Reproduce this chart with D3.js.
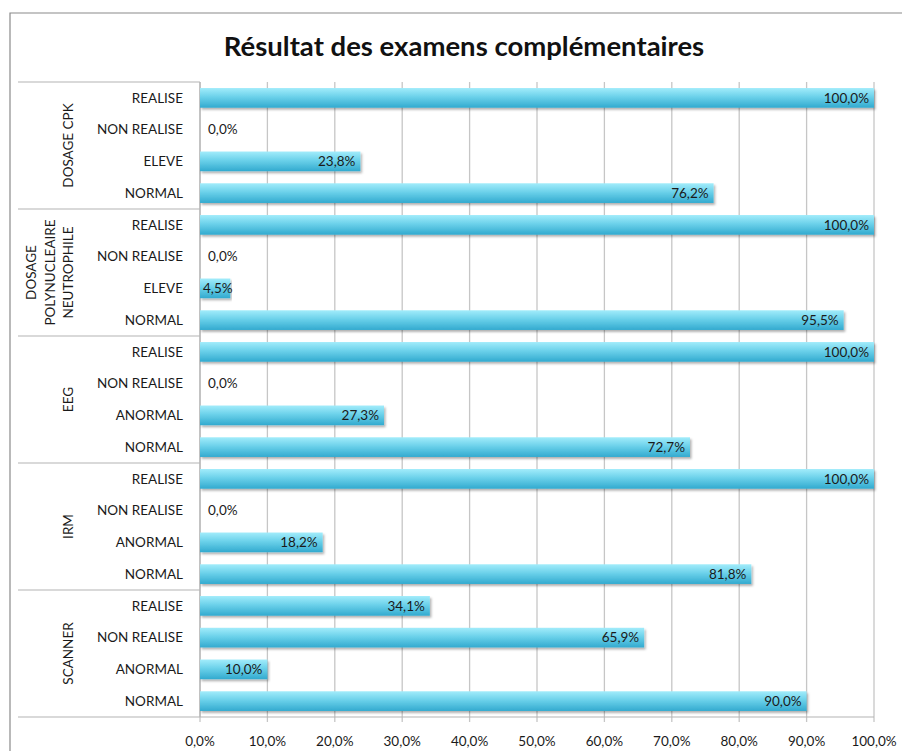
<!DOCTYPE html>
<html>
<head>
<meta charset="utf-8">
<script src="https://cdn.jsdelivr.net/npm/d3@7"></script>
<style>
  body { margin: 0; background: #fff; }
  text { font-family: Lato, "Open Sans", sans-serif; }
</style>
</head>
<body>
<div id="chart"></div>
<script>
// groupes (du haut vers le bas)
const groups = ['DOSAGE CPK', 'DOSAGE POLYNUCLEAIRE NEUTROPHILE', 'EEG', 'IRM', 'SCANNER'];
const groupLines = [['DOSAGE CPK'], ['DOSAGE', 'POLYNUCLEAIRE', 'NEUTROPHILE'], ['EEG'], ['IRM'], ['SCANNER']];
const categories = [
    ['REALISE', 'NON REALISE', 'ELEVE', 'NORMAL'],
    ['REALISE', 'NON REALISE', 'ELEVE', 'NORMAL'],
    ['REALISE', 'NON REALISE', 'ANORMAL', 'NORMAL'],
    ['REALISE', 'NON REALISE', 'ANORMAL', 'NORMAL'],
    ['REALISE', 'NON REALISE', 'ANORMAL', 'NORMAL']
];
const values = [
    [100.0, 0.0, 23.8, 76.2],
    [100.0, 0.0, 4.5, 95.5],
    [100.0, 0.0, 27.3, 72.7],
    [100.0, 0.0, 18.2, 81.8],
    [34.1, 65.9, 10.0, 90.0]
];
const xTicks = [0, 10, 20, 30, 40, 50, 60, 70, 80, 90, 100];

const W = 902, H = 751;
const M = { left: 200, right: 874, top: 82, bottom: 717 };
const FS = 13.5;  // taille des libellés

// lignes à plat
let rows = [];
groups.forEach((g, gi) => {
    categories[gi].forEach((c, ci) => {
        rows.push({ key: gi + '-' + ci, group: gi, cat: c, value: values[gi][ci] });
    });
});

const fmt = v => v.toFixed(1).replace('.', ',') + '%';

const svg = d3.select('#chart').append('svg')
    .attr('width', W)
    .attr('height', H);

const defs = svg.append('defs');
const grad = defs.append('linearGradient')
    .attr('id', 'barGrad')
    .attr('x1', 0).attr('y1', 0).attr('x2', 0).attr('y2', 1);
grad.append('stop').attr('offset', '0%').attr('stop-color', '#a2ecfb');
grad.append('stop').attr('offset', '45%').attr('stop-color', '#6bd1ea');
grad.append('stop').attr('offset', '100%').attr('stop-color', '#32aacf');

const shadow = defs.append('filter').attr('id', 'shadow')
    .attr('x', '-5%').attr('y', '-30%').attr('width', '110%').attr('height', '180%');
shadow.append('feDropShadow')
    .attr('dx', 1.5).attr('dy', 2).attr('stdDeviation', 1.2)
    .attr('flood-color', '#000').attr('flood-opacity', 0.3);

// cadre extérieur
svg.append('path')
    .attr('d', `M10,${H} L10,13 L${W},13`)
    .attr('fill', 'none')
    .attr('stroke', '#8a8a8a')
    .attr('stroke-width', 1.2);

// titre
svg.append('text')
    .attr('x', 464)
    .attr('y', 56)
    .attr('text-anchor', 'middle')
    .attr('font-size', 27.5)
    .attr('font-weight', 'bold')
    .attr('fill', '#111')
    .text('Résultat des examens complémentaires');

const x = d3.scaleLinear().domain([0, 100]).range([M.left, M.right]);
const y = d3.scaleBand().domain(rows.map(d => d.key)).range([M.top, M.bottom]).paddingInner(0.38).paddingOuter(0.19);
const band = (M.bottom - M.top) / rows.length;

// grille verticale
svg.append('g')
    .selectAll('line')
    .data(xTicks)
    .join('line')
    .attr('x1', d => x(d)).attr('x2', d => x(d))
    .attr('y1', M.top).attr('y2', M.bottom + 5)
    .attr('stroke', '#c6c6c6')
    .attr('stroke-width', 1.3);

// séparateurs de groupes dans la zone des libellés
const sepY = d3.range(groups.length + 1).map(i => M.top + i * 4 * band);
svg.append('g')
    .selectAll('line')
    .data(sepY)
    .join('line')
    .attr('x1', 18).attr('x2', (d, i) => i === groups.length ? M.right : M.left)
    .attr('y1', d => d).attr('y2', d => d)
    .attr('stroke', '#b4b4b4')
    .attr('stroke-width', 1.2);

svg.append('line')
    .attr('x1', M.left).attr('x2', M.left)
    .attr('y1', M.top).attr('y2', M.bottom)
    .attr('stroke', '#b4b4b4')
    .attr('stroke-width', 1.2);

// barres
svg.append('g')
    .selectAll('rect')
    .data(rows.filter(d => d.value > 0))
    .join('rect')
    .attr('x', x(0))
    .attr('y', d => y(d.key))
    .attr('width', d => x(d.value) - x(0))
    .attr('height', y.bandwidth())
    .attr('fill', 'url(#barGrad)')
    .attr('filter', 'url(#shadow)');

// étiquettes de données
svg.append('g')
    .selectAll('text')
    .data(rows)
    .join('text')
    .attr('x', d => {
        let w = x(d.value) - x(0);
        if (d.value === 0) return x(0) + 8;
        if (w < 40) return x(0) + 3;
        return x(d.value) - 5;
    })
    .attr('y', d => y(d.key) + y.bandwidth() / 2)
    .attr('dy', '0.35em')
    .attr('text-anchor', d => (x(d.value) - x(0) < 40) ? 'start' : 'end')
    .attr('font-size', FS)
    .attr('fill', '#1a1a1a')
    .text(d => fmt(d.value));

// libellés des catégories
svg.append('g')
    .selectAll('text')
    .data(rows)
    .join('text')
    .attr('x', 183)
    .attr('y', d => y(d.key) + y.bandwidth() / 2)
    .attr('dy', '0.35em')
    .attr('text-anchor', 'end')
    .attr('font-size', FS)
    .attr('fill', '#1a1a1a')
    .text(d => d.cat);

// libellés des groupes (verticaux)
groupLines.forEach((lines, gi) => {
    let cy = sepY[gi] + 2 * band;
    let n = lines.length;
    lines.forEach((ln, li) => {
        let cx = n === 1 ? 68 : 50 + (li - (n - 1) / 2) * 18.5;
        svg.append('text')
            .attr('transform', `translate(${cx},${cy}) rotate(-90)`)
            .attr('text-anchor', 'middle')
            .attr('dy', '0.35em')
            .attr('font-size', FS)
            .attr('fill', '#1a1a1a')
            .text(ln);
    });
});

// axe X
svg.append('g')
    .selectAll('text')
    .data(xTicks)
    .join('text')
    .attr('x', d => x(d))
    .attr('y', 746)
    .attr('text-anchor', 'middle')
    .attr('font-size', FS)
    .attr('fill', '#1a1a1a')
    .text(d => fmt(d));
</script>
</body>
</html>
